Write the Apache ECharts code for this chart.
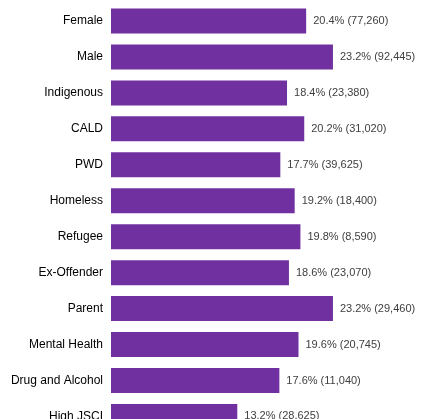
<!DOCTYPE html>
<html>
<head>
<meta charset="utf-8">
<script src="https://cdn.jsdelivr.net/npm/echarts@6/dist/echarts.min.js"></script>
<style>
  html, body { margin: 0; padding: 0; background: #ffffff; overflow: hidden; }
  /* the canvas is a little taller than the window so the last row is cut at the bottom */
  #chart { width: 443px; height: 436px; }
</style>
</head>
<body>
<div id="chart"></div>
<script>
// Cohort groups, top to bottom
const categories = ['Female', 'Male', 'Indigenous', 'CALD', 'PWD', 'Homeless', 'Refugee',
  'Ex-Offender', 'Parent', 'Mental Health', 'Drug and Alcohol', 'High JSCI'];
// Percentage for each group
const percents = [20.4, 23.2, 18.4, 20.2, 17.7, 19.2, 19.8, 18.6, 23.2, 19.6, 17.6, 13.2];
// Head counts shown in brackets
const counts = ['77,260', '92,445', '23,380', '31,020', '39,625', '18,400', '8,590',
  '23,070', '29,460', '20,745', '11,040', '28,625'];

const chart = echarts.init(document.getElementById('chart'), null, { renderer: 'canvas' });

chart.setOption({
  animation: false,
  grid: { left: 111, top: 3, width: 287, height: 431.4, containLabel: false },
  xAxis: {
    type: 'value', min: 0, max: 30, show: false
  },
  yAxis: {
    type: 'category',
    data: categories,
    inverse: true,
    axisLine: { show: false },
    axisTick: { show: false },
    axisLabel: {
      color: '#000000',
      fontFamily: 'Liberation Sans, Arial, sans-serif',
      fontSize: 12,
      margin: 8
    }
  },
  series: [{
    type: 'bar',
    data: percents,
    barWidth: 25,
    itemStyle: { color: '#7030A0' },
    label: {
      show: true,
      position: 'right',
      distance: 7,
      color: '#404040',
      fontFamily: 'Liberation Sans, Arial, sans-serif',
      fontSize: 11,
      formatter: p => p.value.toFixed(1) + '% (' + counts[p.dataIndex] + ')'
    }
  }]
});
</script>
</body>
</html>
